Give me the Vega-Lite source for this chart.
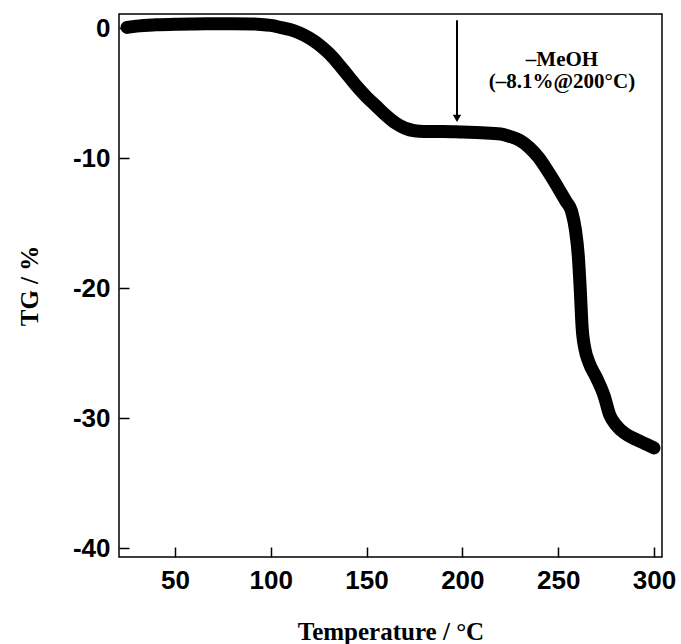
{
  "$schema": "https://vega.github.io/schema/vega-lite/v6.json",
  "width": 543,
  "height": 543,
  "autosize": {"type": "none"},
  "padding": {"left": 119, "top": 14, "right": 19, "bottom": 87},
  "background": "white",
  "config": {
    "view": {"stroke": "black", "strokeWidth": 1.5},
    "axis": {"grid": false, "domain": false}
  },
  "datasets": {
    "tg": [
      {"T": 25, "TG": 0.05}, {"T": 30, "TG": 0.15}, {"T": 40, "TG": 0.25}, {"T": 50, "TG": 0.3},
      {"T": 60, "TG": 0.32}, {"T": 70, "TG": 0.33}, {"T": 80, "TG": 0.33}, {"T": 90, "TG": 0.32},
      {"T": 95, "TG": 0.28}, {"T": 100, "TG": 0.2}, {"T": 105, "TG": 0.05}, {"T": 110, "TG": -0.12},
      {"T": 115, "TG": -0.38}, {"T": 120, "TG": -0.75}, {"T": 125, "TG": -1.25}, {"T": 130, "TG": -1.9},
      {"T": 135, "TG": -2.7}, {"T": 140, "TG": -3.6}, {"T": 145, "TG": -4.5}, {"T": 150, "TG": -5.3},
      {"T": 155, "TG": -6.0}, {"T": 160, "TG": -6.7}, {"T": 165, "TG": -7.3}, {"T": 170, "TG": -7.7},
      {"T": 175, "TG": -7.9}, {"T": 180, "TG": -7.95}, {"T": 190, "TG": -7.95}, {"T": 200, "TG": -8.0},
      {"T": 210, "TG": -8.05}, {"T": 220, "TG": -8.15}, {"T": 225, "TG": -8.35}, {"T": 230, "TG": -8.65},
      {"T": 235, "TG": -9.2}, {"T": 240, "TG": -10.0}, {"T": 245, "TG": -11.1}, {"T": 250, "TG": -12.3},
      {"T": 254, "TG": -13.3}, {"T": 257, "TG": -14.1}, {"T": 259, "TG": -15.5}, {"T": 260.5, "TG": -17.5},
      {"T": 261.5, "TG": -20}, {"T": 262.5, "TG": -23}, {"T": 264, "TG": -24.7}, {"T": 266, "TG": -25.7},
      {"T": 270, "TG": -26.9}, {"T": 274, "TG": -28.3}, {"T": 277, "TG": -29.8}, {"T": 280, "TG": -30.5},
      {"T": 285, "TG": -31.2}, {"T": 290, "TG": -31.6}, {"T": 295, "TG": -31.95}, {"T": 300, "TG": -32.3}
    ],
    "arrow": [{"T": 197.2, "top": 0.6, "bottom": -6.7, "tip": -6.95}],
    "labels": [
      {"T": 252, "TG": -2.46, "label": "–MeOH"},
      {"T": 252, "TG": -4.15, "label": "(–8.1%@200°C)"}
    ]
  },
  "layer": [
    {
      "data": {"name": "tg"},
      "mark": {"type": "line", "color": "black", "strokeWidth": 13, "strokeCap": "round", "strokeJoin": "round", "interpolate": "monotone", "clip": true},
      "encoding": {
        "x": {
          "field": "T", "type": "quantitative",
          "scale": {"domain": [20.8, 304.2], "nice": false, "zero": false},
          "axis": {
            "title": "Temperature / °C",
            "values": [50, 100, 150, 200, 250, 300],
            "tickSize": -10, "tickWidth": 1.5, "tickColor": "black",
            "labelFont": "Liberation Sans", "labelFontWeight": "bold", "labelFontSize": 26, "labelColor": "black",
            "labelPadding": 20, "labelFlush": false,
            "titleFont": "Liberation Serif", "titleFontWeight": "bold", "titleFontSize": 25, "titleColor": "black",
            "titlePadding": 26
          }
        },
        "y": {
          "field": "TG", "type": "quantitative",
          "scale": {"domain": [-40.69, 1.08], "nice": false, "zero": false},
          "axis": {
            "title": "TG / %",
            "values": [0, -10, -20, -30, -40],
            "labelExpr": "replace(format(datum.value, 'd'), '−', '-')",
            "tickSize": -10, "tickWidth": 1.5, "tickColor": "black",
            "labelFont": "Liberation Sans", "labelFontWeight": "bold", "labelFontSize": 26, "labelColor": "black",
            "labelPadding": 19, "labelFlush": false,
            "titleFont": "Liberation Serif", "titleFontWeight": "bold", "titleFontSize": 25, "titleColor": "black",
            "titlePadding": 30
          }
        }
      }
    },
    {
      "data": {"name": "arrow"},
      "mark": {"type": "rule", "color": "black", "strokeWidth": 2},
      "encoding": {
        "x": {"field": "T", "type": "quantitative"},
        "y": {"field": "top", "type": "quantitative"},
        "y2": {"field": "bottom"}
      }
    },
    {
      "data": {"name": "arrow"},
      "mark": {"type": "point", "shape": "triangle-down", "filled": true, "color": "black", "size": 70, "opacity": 1},
      "encoding": {
        "x": {"field": "T", "type": "quantitative"},
        "y": {"field": "tip", "type": "quantitative"}
      }
    },
    {
      "data": {"name": "labels"},
      "mark": {"type": "text", "font": "Liberation Serif", "fontWeight": "bold", "fontSize": 21, "color": "black", "align": "center", "baseline": "middle"},
      "encoding": {
        "x": {"field": "T", "type": "quantitative"},
        "y": {"field": "TG", "type": "quantitative"},
        "text": {"field": "label"}
      }
    }
  ]
}
